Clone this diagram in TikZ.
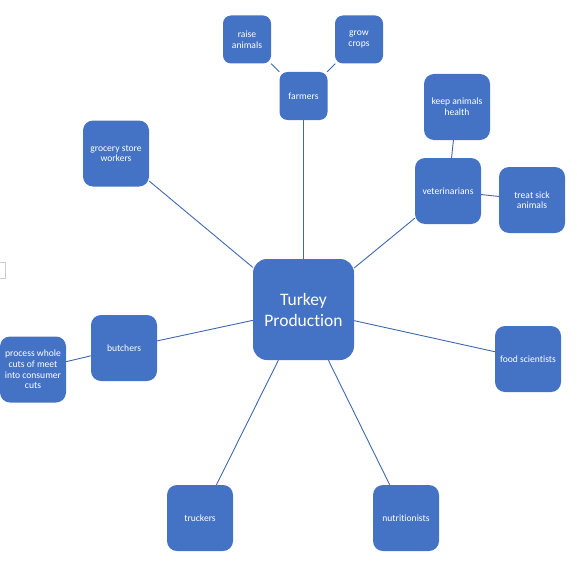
\documentclass[tikz,border=0pt]{standalone}
\usepackage{fontspec}
\setmainfont[Ligatures={NoCommon}]{Carlito}
\definecolor{boxblue}{HTML}{4472C4}
\definecolor{lineblue}{HTML}{3F67AE}
\begin{document}
\begin{tikzpicture}[x=1pt,y=-1pt,
  box/.style={fill=boxblue,draw=none,text=white,rounded corners=10pt,align=center,
    minimum width=66pt,minimum height=66pt,inner sep=1pt,
    font=\fontsize{9.6}{10.6}\selectfont},
  sbox/.style={box,minimum width=48pt,minimum height=48pt,rounded corners=8pt},
  bigbox/.style={box,minimum width=101pt,minimum height=101pt,rounded corners=14pt,
    font=\fontsize{17.5}{21}\selectfont},
  link/.style={draw=lineblue,line width=0.9pt}]
\useasboundingbox (0,0) rectangle (577,567);
\draw[gray!40,line width=0.6pt] (-3,262) rectangle (5,278);
\node[bigbox] (tp) at (303.5,309.5) {Turkey\\Production};
\node[sbox] (farm) at (303.5,96) {farmers};
\node[sbox] (raise) at (247,39.5) {raise\\animals};
\node[sbox] (grow) at (359,39.5) {grow\\crops};
\node[box] (keep) at (457,107) {keep animals\\health};
\node[box] (vet) at (448,191) {veterinarians};
\node[box] (treat) at (532,200) {treat sick\\animals};
\node[box] (groc) at (116,153.5) {grocery store\\workers};
\node[box] (butch) at (124,348) {butchers};
\node[box] (proc) at (33,369.5) {process whole\\cuts of meet\\into consumer\\cuts};
\node[box] (food) at (528,359) {food scientists};
\node[box] (truck) at (200,518) {truckers};
\node[box] (nutr) at (406,518) {nutritionists};
\draw[link] (tp) -- (farm);
\draw[link] (farm) -- (raise);
\draw[link] (farm) -- (grow);
\draw[link] (tp) -- (vet);
\draw[link] (vet) -- (keep);
\draw[link] (vet) -- (treat);
\draw[link] (tp) -- (groc);
\draw[link] (tp) -- (butch);
\draw[link] (butch) -- (proc);
\draw[link] (tp) -- (food);
\draw[link] (tp) -- (truck);
\draw[link] (tp) -- (nutr);
\end{tikzpicture}
\end{document}
